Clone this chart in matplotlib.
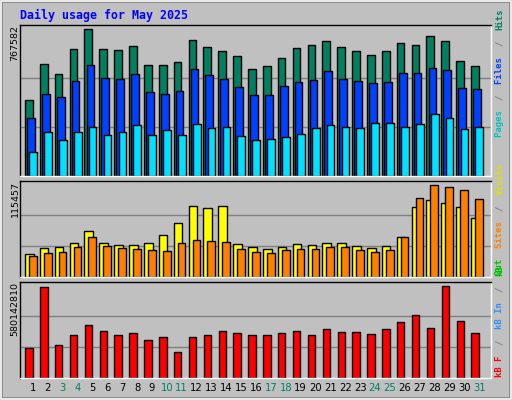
import matplotlib
matplotlib.use("Agg")
import matplotlib.pyplot as plt
from matplotlib.patches import Rectangle

days = list(range(1, 32))
weekend = [3, 4, 10, 11, 17, 18, 24, 25, 31]
hits = [396800, 584800, 532600, 663100, 767582, 663100, 657900, 678800, 579600, 579600, 595300,
        710100, 673600, 652700, 626600, 558700, 574400, 616100, 668400, 684000, 704900, 673600,
        652700, 631800, 652700, 694500, 684000, 731000, 704900, 600500, 574400]
files = [302800, 428200, 412500, 496000, 579600, 511700, 506500, 532600, 438600, 428200, 443800,
         558700, 527400, 506500, 464700, 422900, 422900, 469900, 490800, 501300, 548300, 506500,
         496000, 485600, 490800, 537800, 537800, 563900, 553500, 459500, 454300]
pages = [125300, 229700, 188000, 229700, 255900, 214100, 229700, 266300, 214100, 240200, 214100,
         271500, 250600, 255900, 208900, 188000, 193200, 203600, 219300, 250600, 266300, 255900,
         250600, 276700, 276700, 255900, 271500, 323700, 302800, 245400, 255900]
visits = [28860, 36390, 37650, 42670, 57730, 42670, 40160, 40160, 42670, 52710, 67770,
          89100, 86590, 89100, 41410, 37650, 35140, 37650, 41410, 40160, 42670, 42670,
          38900, 36390, 38900, 50200, 87840, 96630, 92860, 87840, 74040]
sites = [26350, 30120, 31370, 37650, 50200, 38900, 36390, 35140, 33880, 32630, 42670,
         46430, 45180, 43920, 35140, 31370, 30120, 33880, 35140, 35140, 37650, 37650,
         33880, 31370, 33880, 50200, 99140, 115457, 112940, 109180, 97880]
kbytes = [190.6e6, 573.8e6, 205.4e6, 268.9e6, 332.4e6, 294.3e6, 268.9e6, 281.6e6, 237.1e6, 256.2e6, 160.9e6,
          256.2e6, 268.9e6, 294.3e6, 281.6e6, 268.9e6, 268.9e6, 281.6e6, 294.3e6, 268.9e6, 307.0e6, 288.0e6,
          288.0e6, 275.2e6, 307.0e6, 351.5e6, 395.9e6, 313.4e6, 580142810, 357.8e6, 281.6e6]

W, H = 512, 400
fig = plt.figure(figsize=(5.12, 4.0), dpi=100)
fig.patch.set_facecolor("#C0C0C0")
fig.add_artist(Rectangle((0, 0), 1, 1, transform=fig.transFigure, fill=False, ec="#808080", lw=4))
fig.add_artist(Rectangle((1/W, 1/H), 1-2/W, 1-2/H, transform=fig.transFigure, fill=False, ec="white", lw=1.2))
renderer = fig.canvas.get_renderer()

def ax_at(top, bottom, left=20, right=491):
    return fig.add_axes([left/W, 1-bottom/H, (right-left)/W, (bottom-top)/H])

mono = "DejaVu Sans Mono"
fig.text(20/W, 1-15/H, "Daily usage for May 2025", color="#0000FF", fontsize=8.4,
         fontweight="bold", family=mono, va="center", ha="left")

def style(ax, vmax, top_factor, label):
    ax.set_facecolor("#C0C0C0")
    ax.set_xlim(0.126, 31.8)
    ax.set_ylim(0, vmax*top_factor)
    for g in (vmax/3, 2*vmax/3):
        ax.axhline(g, color="#808080", lw=1, zorder=0)
    ax.set_xticks([]); ax.set_yticks([])
    for s in ax.spines.values():
        s.set_color("black"); s.set_linewidth(1)
    ax.spines["right"].set_color("white"); ax.spines["bottom"].set_color("white")
    bb = ax.get_position()
    fig.text(15/W, bb.y1, label, rotation=90, fontsize=6.8, ha="center", va="top", color="black")

def right_label(y_bottom_px, parts):
    # parts listed bottom to top; text reads bottom-up
    y = 1 - y_bottom_px/H
    for txt, col in parts:
        t = fig.text(500/W, y, txt, rotation=90, fontsize=6.5, family=mono, fontweight="bold",
                     color=col, ha="center", va="bottom", rotation_mode="anchor" if False else "default")
        ext = t.get_window_extent(renderer=renderer)
        y += ext.height / H
        n_sp = len(txt) - len(txt.rstrip())
        # trailing spaces not measured; add them
        y += n_sp * 5.2 / H

kw = dict(align="edge", edgecolor="black", linewidth=1)
ax1 = ax_at(25, 176)
ax1.bar([d-0.54 for d in days], hits, width=0.52, color="#008060", **kw)
ax1.bar([d-0.40 for d in days], files, width=0.52, color="#0040FF", **kw)
ax1.bar([d-0.25 for d in days], pages, width=0.52, color="#00E0FF", **kw)
style(ax1, max(hits), 1.03, "767582")
right_label(137, [("Pages ", "#00C0C0"), ("/ ", "#808080"), ("Files ", "#0040FF"), ("/ ", "#808080"), ("Hits", "#008060")])

ax2 = ax_at(181, 277)
ax2.bar([d-0.54 for d in days], visits, width=0.58, color="#FFFF00", **kw)
ax2.bar([d-0.27 for d in days], sites, width=0.52, color="#FF8000", **kw)
style(ax2, max(sites), 1.04, "115457")
right_label(275, [("Out ", "#00C000"), ("Sites ", "#FF8000"), ("/ ", "#808080"), ("Visits", "#E0E000")])

ax3 = ax_at(282, 378)
ax3.bar([d-0.52 for d in days], kbytes, width=0.5, color="#FF0000", **kw)
style(ax3, max(kbytes), 1.04, "580142810")
right_label(377, [("kB F ", "#FF0000"), ("/ ", "#808080"), ("kB In ", "#3090FF"), ("/ ", "#808080"), ("kB", "#00C000")])

for d in days:
    x0 = (20 + (d - 0.126) / (31.8 - 0.126) * 471) / W
    fig.text(x0, 1-388/H, str(d), fontsize=7.2, ha="center", va="center",
             color="#008060" if d in weekend else "black")

fig.savefig("out.png", dpi=100, facecolor=fig.get_facecolor())
